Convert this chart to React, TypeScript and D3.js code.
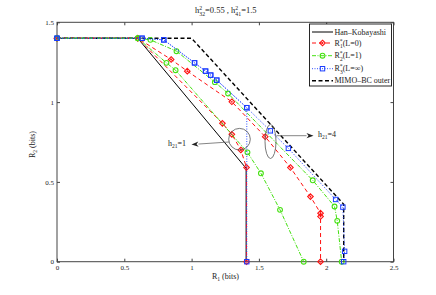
import React, { useRef, useEffect } from 'react'
import * as d3 from 'd3'

type Pt = [number, number]

const width = 436
const height = 295

const xTicks = [0, 0.5, 1, 1.5, 2, 2.5]
const yTicks = [0, 0.5, 1, 1.5]

// boundaries (R1, R2) in bits
const hanKobayashi: Pt[] = [[0, 1.4], [0.6, 1.4], [1.405, 0.585], [1.405, 0]]
const mimoBcOuter: Pt[] = [[0, 1.4], [1.0, 1.4], [2.13, 0.36], [2.13, 0]]

// h21 = 1
const r1L0h1: Pt[] = [[0, 1.4], [0.6, 1.4], [1.229, 0.867], [1.299, 0.798], [1.366, 0.7], [1.408, 0.59], [1.408, 0]]
const r2L1h1: Pt[] = [[0, 1.4], [0.6, 1.4], [0.813, 1.246], [0.881, 1.2], [1.415, 0.685], [1.515, 0.554], [1.657, 0.325], [1.833, 0]]
const r3LInfh1: Pt[] = [[0, 1.4], [0.632, 1.4], [0.793, 1.39], [1.022, 1.246], [1.104, 1.194], [1.142, 1.169], [1.187, 1.1375], [1.41, 0.965], [1.41, 0]]

// h21 = 4
const r1L0h4: Pt[] = [[0, 1.4], [0.6, 1.4], [0.848, 1.267], [0.968, 1.194], [1.299, 1.002], [1.547, 0.783], [1.734, 0.59], [1.883, 0.408], [1.958, 0.304], [1.958, 0.283], [1.958, 0]]
const r2L1h4: Pt[] = [[0, 1.4], [0.6, 1.4], [0.694, 1.39], [0.888, 1.319], [1.173, 1.125], [1.271, 1.054], [1.9, 0.51], [2.062, 0.346], [2.082, 0.256], [2.115, 0]]
const r3LInfh4: Pt[] = [[0, 1.4], [0.632, 1.4], [0.793, 1.39], [1.022, 1.246], [1.104, 1.194], [1.142, 1.169], [1.187, 1.1375], [1.41, 0.965], [1.585, 0.82], [1.719, 0.71], [2.07, 0.39], [2.124, 0.342], [2.137, 0.065], [2.13, 0]]

const RED = '#ff1010'
const GREEN = '#44e010'
const BLUE = '#1a3cff'

export default function App() {
  const svgRef = useRef<SVGSVGElement>(null)

  useEffect(() => {
    if (!svgRef.current) return
    const svg = d3.select(svgRef.current)
    svg.selectAll('*').remove()

    const font = '"Liberation Serif", "Times New Roman", serif'
    const x = d3.scaleLinear().domain([0, 2.5]).range([57, 393.5])
    const y = d3.scaleLinear().domain([0, 1.5]).range([261.7, 22.3])
    const line = d3.line<Pt>().x(d => x(d[0])).y(d => y(d[1]))

    svg.append('rect').attr('width', width).attr('height', height).attr('fill', 'white')

    // axes box
    svg.append('rect')
      .attr('x', x(0)).attr('y', y(1.5))
      .attr('width', x(2.5) - x(0)).attr('height', y(0) - y(1.5))
      .attr('fill', 'white').attr('stroke', '#444').attr('stroke-width', 1)

    const styleAxis = (g: any) => {
      g.select('.domain').remove()
      g.selectAll('line').attr('stroke', '#444')
      g.selectAll('text').attr('font-family', font).attr('font-size', 7).attr('fill', '#222')
    }

    svg.append('g').attr('transform', `translate(0,${y(0)})`)
      .call(d3.axisBottom(x).tickValues(xTicks).tickSize(-3).tickPadding(3.5).tickFormat(d3.format('')))
      .call(styleAxis)
    svg.append('g').attr('transform', `translate(0,${y(1.5)})`)
      .call(d3.axisTop(x).tickValues(xTicks).tickSize(-3).tickFormat(() => ''))
      .call(styleAxis)
    svg.append('g').attr('transform', `translate(${x(0)},0)`)
      .call(d3.axisLeft(y).tickValues(yTicks).tickSize(-3).tickPadding(3).tickFormat(d3.format('')))
      .call(styleAxis)
    svg.append('g').attr('transform', `translate(${x(2.5)},0)`)
      .call(d3.axisRight(y).tickValues(yTicks).tickSize(-3).tickFormat(() => ''))
      .call(styleAxis)

    // markers
    const diamond = (g: any, px: number, py: number) => {
      const s = 2.8
      g.append('path')
        .attr('d', `M${px},${py - s}L${px + s},${py}L${px},${py + s}L${px - s},${py}Z`)
        .attr('fill', 'none').attr('stroke', RED).attr('stroke-width', 1.1)
      g.append('circle').attr('cx', px).attr('cy', py).attr('r', 0.9).attr('fill', RED)
    }
    const circle = (g: any, px: number, py: number) => {
      g.append('circle').attr('cx', px).attr('cy', py).attr('r', 2.4)
        .attr('fill', 'none').attr('stroke', GREEN).attr('stroke-width', 1.1)
    }
    const square = (g: any, px: number, py: number) => {
      g.append('rect').attr('x', px - 2.2).attr('y', py - 2.2).attr('width', 4.4).attr('height', 4.4)
        .attr('fill', 'none').attr('stroke', BLUE).attr('stroke-width', 1)
    }

    const plot = svg.append('g')

    const drawCurve = (data: Pt[], color: string, dash: string | null, sw: number, marker: any) => {
      plot.append('path')
        .attr('d', line(data))
        .attr('fill', 'none')
        .attr('stroke', color)
        .attr('stroke-width', sw)
        .attr('stroke-dasharray', dash)
      if (marker) data.forEach(d => marker(plot, x(d[0]), y(d[1])))
    }

    drawCurve(hanKobayashi, '#000', null, 1, null)
    drawCurve(mimoBcOuter, '#000', '4,2.5', 1.4, null)
    drawCurve(r1L0h1, RED, '4,3', 1, diamond)
    drawCurve(r1L0h4, RED, '4,3', 1, diamond)
    drawCurve(r2L1h1, GREEN, '4,1.5,1,1.5', 1, circle)
    drawCurve(r2L1h4, GREEN, '4,1.5,1,1.5', 1, circle)
    drawCurve(r3LInfh1, BLUE, '1,1.5', 0.9, square)
    drawCurve(r3LInfh4, BLUE, '1,1.5', 0.9, square)

    // annotations
    const ann = svg.append('g')
    ann.append('circle').attr('cx', 239.5).attr('cy', 139.2).attr('r', 10.8)
      .attr('fill', 'none').attr('stroke', '#555').attr('stroke-width', 0.8)
    ann.append('ellipse').attr('cx', 270.5).attr('cy', 141.5).attr('rx', 5.5).attr('ry', 17)
      .attr('fill', 'none').attr('stroke', '#555').attr('stroke-width', 0.8)

    const arrow = (x1: number, y1: number, x2: number, y2: number) => {
      const a = Math.atan2(y2 - y1, x2 - x1)
      const L = 7, W = 2.6
      const bx = x2 - L * Math.cos(a), by = y2 - L * Math.sin(a)
      ann.append('line').attr('x1', x1).attr('y1', y1).attr('x2', bx).attr('y2', by)
        .attr('stroke', '#666').attr('stroke-width', 0.8)
      ann.append('path')
        .attr('d', `M${x2},${y2}L${bx + W * Math.sin(a)},${by - W * Math.cos(a)}L${bx + 2 * Math.cos(a)},${by + 2 * Math.sin(a)}L${bx - W * Math.sin(a)},${by + W * Math.cos(a)}Z`)
        .attr('fill', '#222')
    }
    arrow(229, 142, 191.5, 144.5)
    arrow(276.5, 135.7, 313.5, 135.7)

    const hLabel = (px: number, py: number, val: string) => {
      const t = ann.append('text').attr('x', px).attr('y', py)
        .attr('font-family', font).attr('font-size', 8).attr('fill', '#222')
      t.append('tspan').text('h')
      t.append('tspan').attr('dy', 2).attr('font-size', 5.5).text('21')
      t.append('tspan').attr('dy', -2).text(`=${val}`)
    }
    hLabel(168, 146, '1')
    hLabel(318, 137, '4')

    // title
    const title = svg.append('text').attr('x', 195).attr('y', 13)
      .attr('font-family', font).attr('font-size', 8.5).attr('fill', '#222')
    title.append('tspan').text('h')
    title.append('tspan').attr('dy', -3.2).attr('font-size', 5.8).text('2')
    title.append('tspan').attr('dx', -2.9).attr('dy', 5.8).attr('font-size', 5.8).text('32')
    title.append('tspan').attr('dy', -2.6).text('=0.55 , h')
    title.append('tspan').attr('dy', -3.2).attr('font-size', 5.8).text('2')
    title.append('tspan').attr('dx', -2.9).attr('dy', 5.8).attr('font-size', 5.8).text('41')
    title.append('tspan').attr('dy', -2.6).text('=1.5')

    // axis labels
    const xl = svg.append('text').attr('x', 212).attr('y', 279)
      .attr('font-family', font).attr('font-size', 8).attr('fill', '#222')
    xl.append('tspan').text('R')
    xl.append('tspan').attr('dy', 2).attr('font-size', 5.5).text('1')
    xl.append('tspan').attr('dy', -2).text(' (bits)')

    const yl = svg.append('text').attr('transform', `translate(35,${158}) rotate(-90)`)
      .attr('font-family', font).attr('font-size', 8).attr('fill', '#222')
    yl.append('tspan').text('R')
    yl.append('tspan').attr('dy', 2).attr('font-size', 5.5).text('2')
    yl.append('tspan').attr('dy', -2).text(' (bits)')

    // legend
    const lg = svg.append('g')
    lg.append('rect').attr('x', 309.5).attr('y', 24).attr('width', 82).attr('height', 62)
      .attr('fill', 'white').attr('stroke', '#111').attr('stroke-width', 0.9)

    const lx1 = 312, lx2 = 333, lxm = 322.5, tx = 334.5
    const entries = [
      { yy: 32, color: '#000', dash: null, sw: 1, marker: null, label: 'Han\u2013Kobayashi' },
      { yy: 43, color: RED, dash: '4,3', sw: 1, marker: diamond, label: 'R1' },
      { yy: 55.7, color: GREEN, dash: '4,1.5,1,1.5', sw: 1, marker: circle, label: 'R2' },
      { yy: 68.7, color: BLUE, dash: '1,1.5', sw: 0.9, marker: square, label: 'R3' },
      { yy: 80.7, color: '#000', dash: '4,2.5', sw: 1.4, marker: null, label: 'MIMO\u2013BC outer' },
    ]
    const tails: Record<string, string> = { R1: '(L=0)', R2: '(L=1)', R3: '(L=\u221e)' }
    entries.forEach(e => {
      lg.append('line').attr('x1', lx1).attr('x2', lx2).attr('y1', e.yy).attr('y2', e.yy)
        .attr('stroke', e.color).attr('stroke-width', e.sw).attr('stroke-dasharray', e.dash)
      if (e.marker) e.marker(lg, lxm, e.yy)
      const t = lg.append('text').attr('x', tx).attr('y', e.yy + 2.5)
        .attr('font-family', font).attr('font-size', 8).attr('fill', '#222')
      if (tails[e.label]) {
        t.append('tspan').text('R')
        t.append('tspan').attr('dy', -3).attr('font-size', 5.5).text('*')
        t.append('tspan').attr('dx', -2.7).attr('dy', 5.5).attr('font-size', 5.5).text(e.label.slice(1))
        t.append('tspan').attr('dy', -2.5).text(tails[e.label])
      } else {
        t.text(e.label)
      }
    })
  }, [])

  return (
    <svg
      ref={svgRef}
      width={width}
      height={height}
      style={{ position: 'absolute', left: 0, top: 0 }}
    />
  )
}
